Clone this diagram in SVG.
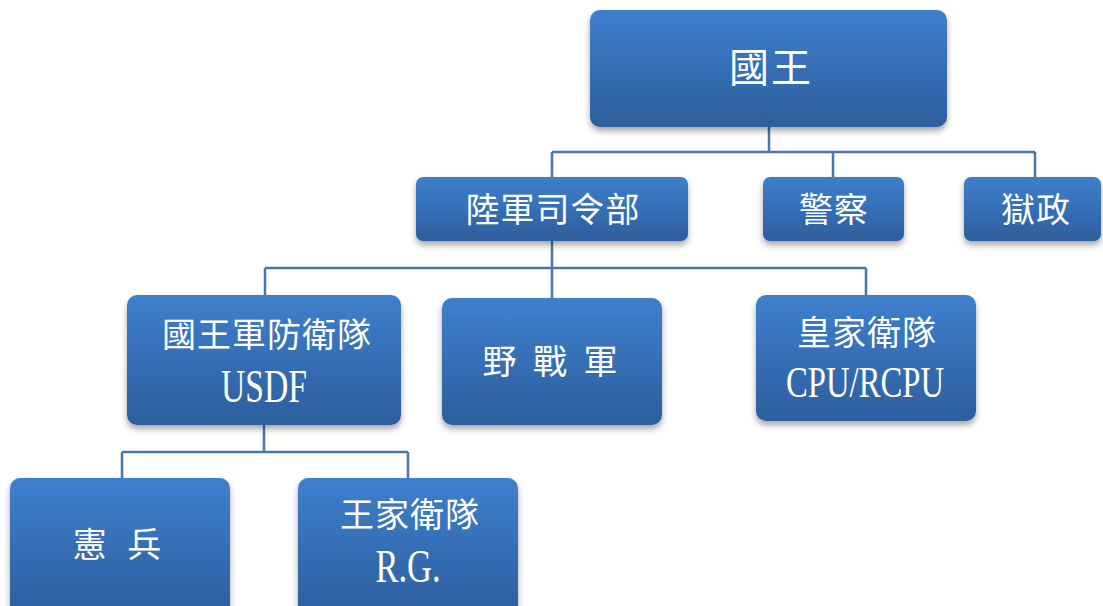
<svg xmlns="http://www.w3.org/2000/svg" width="1103" height="606" viewBox="0 0 1103 606">
<defs>
<linearGradient id="g" x1="0" y1="0" x2="0" y2="1">
<stop offset="0" stop-color="#3e7fcd"/>
<stop offset="1" stop-color="#2d5e9d"/>
</linearGradient>
<filter id="sh" x="-10%" y="-10%" width="120%" height="130%">
<feDropShadow dx="0" dy="4" stdDeviation="3" flood-color="#000" flood-opacity="0.35"/>
</filter>
<style>
.box{fill:url(#g);filter:url(#sh);}
.cn{font-family:"Liberation Serif","Noto Sans CJK TC",serif;fill:#fff;text-anchor:middle;dominant-baseline:central;font-size:34px;letter-spacing:1px;}
.en{font-family:"Liberation Serif",serif;fill:#fff;text-anchor:middle;dominant-baseline:central;font-size:46px;}
.ln{fill:none;stroke:#4a76a8;stroke-width:2.5;}
</style>
</defs>
<rect width="1103" height="606" fill="#fff"/>
<g id="connectors">
<path class="ln" d="M769 127V152M552 152H1035M552 152V177M833 152V177M1035 152V177"/>
<path class="ln" d="M552 241V268M265 268H866M265 268V295M552 268V298M866 268V295"/>
<path class="ln" d="M264 425V452M122 452H408M122 452V478M408 452V478"/>
</g>
<g id="n-king"><rect class="box" x="590" y="10" width="357" height="117" rx="10"/><text class="cn" x="771" y="68" style="font-size:40px;letter-spacing:2px">國王</text></g>
<g id="n-army"><rect class="box" x="416" y="177" width="272" height="64" rx="7"/><text class="cn" x="553" y="210">陸軍司令部</text></g>
<g id="n-police"><rect class="box" x="763" y="177" width="141" height="64" rx="7"/><text class="cn" x="834" y="210">警察</text></g>
<g id="n-prison"><rect class="box" x="964" y="177" width="137" height="64" rx="7"/><text class="cn" x="1036" y="210">獄政</text></g>
<g id="n-usdf"><rect class="box" x="127" y="295" width="274" height="130" rx="10"/><text class="cn" x="267" y="335">國王軍防衛隊</text><text class="en" x="264" y="386" textLength="86" lengthAdjust="spacingAndGlyphs">USDF</text></g>
<g id="n-field"><rect class="box" x="442" y="298" width="220" height="127" rx="10"/><text class="cn" x="552" y="362" style="letter-spacing:4px">野 戰 軍</text></g>
<g id="n-cpu"><rect class="box" x="756" y="295" width="220" height="126" rx="10"/><text class="cn" x="867" y="333">皇家衛隊</text><text class="en" x="865" y="382" textLength="158" lengthAdjust="spacingAndGlyphs" style="font-size:44px">CPU/RCPU</text></g>
<g id="n-mp"><rect class="box" x="10" y="478" width="220" height="140" rx="10"/><text class="cn" x="120" y="545" style="letter-spacing:6px">憲 兵</text></g>
<g id="n-rg"><rect class="box" x="298" y="478" width="220" height="140" rx="10"/><text class="cn" x="410" y="515">王家衛隊</text><text class="en" x="408" y="566" textLength="65" lengthAdjust="spacingAndGlyphs">R.G.</text></g>
</svg>
